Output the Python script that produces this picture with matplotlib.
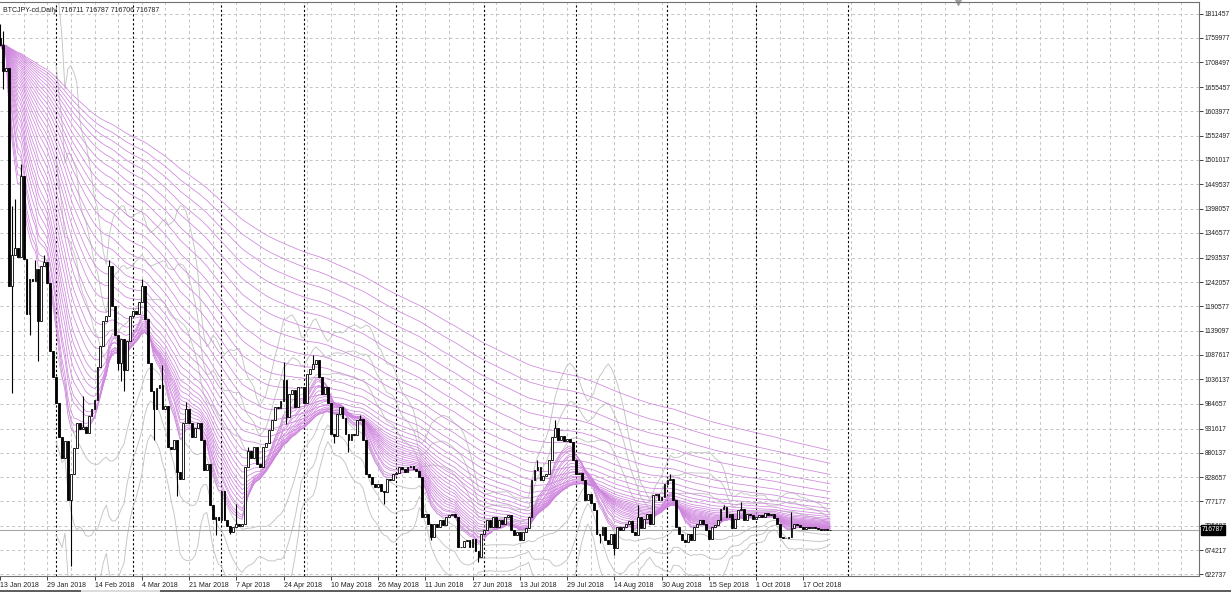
import numpy as np
import pandas as pd
import matplotlib
matplotlib.use('Agg')
import matplotlib.pyplot as plt
from matplotlib.lines import Line2D

# daily closes, thousands of JPY (bar 0 = 13 Jan 2018)
closes = [
    1745, 1690, 1695, 1233, 1300, 1315, 1295, 1467, 1292, 1174,
    1248, 1245, 1270, 1159, 1277, 1285, 1240, 1097, 1040, 985,
    914, 870, 905, 780, 835, 890, 944, 930, 935, 922,
    958, 973, 992, 1062, 1107, 1159, 1170, 1277, 1192, 1129,
    1070, 1121, 1055, 1118, 1170, 1180, 1175, 1200, 1233, 1163,
    1070, 1011, 973, 1018, 1025, 973, 980, 892, 888, 907,
    840, 825, 944, 973, 944, 914, 932, 944, 907, 843,
    857, 770, 740, 745, 738, 800, 737, 725, 712, 722,
    730, 725, 730, 850, 885, 870, 892, 857, 850, 892,
    900, 928, 949, 977, 975, 991, 1034, 956, 1005, 1013,
    977, 1020, 1020, 985, 1048, 1058, 1069, 1076, 1040, 1005,
    1020, 985, 920, 915, 962, 977, 955, 921, 907, 921,
    917, 949, 951, 907, 836, 829, 815, 808, 815, 800,
    797, 825, 822, 835, 838, 850, 845, 840, 850, 853,
    845, 842, 830, 744, 750, 730, 702, 730, 723, 737,
    728, 744, 748, 750, 745, 681, 680, 694, 695, 681,
    697, 673, 660, 709, 716, 737, 723, 744, 723, 737,
    730, 744, 748, 716, 705, 712, 695, 712, 720, 744,
    822, 843, 850, 822, 832, 836, 864, 913, 932, 908,
    915, 905, 910, 904, 864, 836, 838, 822, 780, 794,
    773, 760, 709, 705, 723, 695, 688, 709, 678, 723,
    716, 723, 730, 735, 712, 705, 745, 720, 740, 751,
    730, 790, 793, 780, 787, 815, 822, 825, 780, 723,
    709, 695, 691, 709, 695, 723, 730, 737, 730, 716,
    698, 723, 727, 737, 762, 765, 744, 751, 720, 740,
    758, 762, 737, 751, 748, 740, 745, 748, 745, 752,
    748, 750, 742, 730, 702, 699, 700, 702, 720, 730,
    728, 724, 718, 722, 720, 723, 720, 718, 717, 718,
    717, 716.787,
]
first_open = 1760

# notable wicks (bar -> price, thousands of JPY)
high_wicks = {0: 1790, 1: 1774, 4: 1404, 5: 1418, 7: 1493, 12: 1290, 15: 1300,
              28: 1000, 37: 1289, 48: 1248, 55: 1066, 63: 988, 80: 772, 84: 893,
              96: 1073, 106: 1087, 122: 960, 182: 864, 188: 949, 216: 770,
              227: 835, 245: 769, 251: 775, 268: 755}
low_wicks = {1: 1652, 4: 1007, 10: 1129, 13: 1074, 24: 640, 40: 1055, 41: 1033,
             42: 1011, 52: 907, 60: 788, 73: 705, 78: 709, 97: 942, 113: 900,
             118: 882, 130: 772, 146: 695, 162: 649, 203: 690, 208: 663}

date_labels = ['13 Jan 2018', '29 Jan 2018', '14 Feb 2018', '4 Mar 2018', '21 Mar 2018',
               '7 Apr 2018', '24 Apr 2018', '10 May 2018', '26 May 2018', '11 Jun 2018',
               '27 Jun 2018', '13 Jul 2018', '29 Jul 2018', '14 Aug 2018', '30 Aug 2018',
               '15 Sep 2018', '1 Oct 2018', '17 Oct 2018']
date_bars = [0, 16, 32, 48, 64, 80, 96, 112, 128, 144, 160, 176, 192, 208, 224, 240, 256, 272]
separator_bars = [19, 45, 75, 103, 134, 164, 195, 226, 256, 287]

price_ticks = [1811457, 1759977, 1708497, 1655457, 1603977, 1552497, 1501017, 1449537,
               1398057, 1346577, 1293537, 1242057, 1190577, 1139097, 1087617, 1036137,
               984657, 931617, 880137, 828657, 777177, 725697, 674217, 622737]

ema_periods = [8, 9, 10, 12, 13, 15, 17, 19, 21, 23, 26, 29, 32, 36, 40, 45, 50, 55,
               61, 68, 75, 84, 93, 103, 114, 127, 141, 157, 174, 193, 215, 240]
bb_period = 20
bb_devs = [1, 2, 3]

last_price = 716787
title = 'BTCJPY-cd,Daily  716711 716787 716706 716787'

# ---------------------------------------------------------------
c = np.array(closes) * 1000.0
o = np.concatenate([[first_open * 1000.0], c[:-1]])
h = np.maximum(o, c)
l = np.minimum(o, c)
for k, v in high_wicks.items():
    h[k] = max(h[k], v * 1000.0)
for k, v in low_wicks.items():
    l[k] = min(l[k], v * 1000.0)
bars = np.arange(len(c))

fig = plt.figure(figsize=(12.31, 5.93), dpi=100)
ax = fig.add_axes([0, 17 / 593, 1199 / 1231, 574 / 593])
ax.set_xlim(0, 406)
ax.set_ylim(619133, 1835834)

grid_kw = dict(color='#c4c4c4', lw=0.7, linestyle=(0, (3, 3)), zorder=0)
for p in price_ticks:
    ax.axhline(p, **grid_kw)
for b in range(8, 406, 8):
    ax.axvline(b, **grid_kw)
for b in separator_bars:
    ax.axvline(b, color='black', lw=0.8, linestyle=(0, (2, 2)), zorder=1)

s = pd.Series(c)
mid = s.rolling(bb_period).mean()
sd = s.rolling(bb_period).std(ddof=0)
for d in bb_devs:
    ax.plot(bars, mid + d * sd, color='#c4c4c4', lw=0.65, zorder=2)
    ax.plot(bars, mid - d * sd, color='#c4c4c4', lw=0.65, zorder=2)

for p in ema_periods:
    ax.plot(bars, s.ewm(span=p, adjust=False).mean(), color='#cf86de', lw=0.55, zorder=3)

ax.axhline(last_price, color='#a8a8a8', lw=0.8, zorder=3)

up = c >= o
ax.vlines(bars, l, h, color='black', lw=0.8, zorder=4)
ax.bar(bars[up], (c - o)[up], bottom=o[up], width=0.62, facecolor='white',
       edgecolor='black', lw=0.6, zorder=5)
ax.bar(bars[~up], (o - c)[~up], bottom=c[~up], width=0.62, facecolor='black',
       edgecolor='black', lw=0.6, zorder=5)

# axes styling
ax.spines['left'].set_visible(False)
for side in ['top', 'right', 'bottom']:
    ax.spines[side].set_color('#707070')
    ax.spines[side].set_linewidth(0.8)

ax.yaxis.tick_right()
ax.set_yticks(price_ticks)
ax.set_yticklabels([str(p) for p in price_ticks])
ax.tick_params(axis='y', length=3, width=0.6, pad=0.8, labelsize=4.8, colors='#202020')
ax.set_xticks(date_bars)
ax.set_xticklabels(date_labels, ha='left')
ax.tick_params(axis='x', length=3, width=0.6, pad=1, labelsize=5.0, colors='#202020')
for lab in ax.get_xticklabels() + ax.get_yticklabels():
    lab.set_fontfamily('Liberation Sans')

ax.text(1.0025, last_price, str(last_price), transform=ax.get_yaxis_transform(),
        ha='left', va='center', fontsize=4.8, color='white', family='Liberation Sans',
        bbox=dict(boxstyle='square,pad=0.2', fc='black', ec='black'), zorder=10, clip_on=False)

ax.text(3 / 1199, 1 - 8 / 574, title, transform=ax.transAxes, ha='left', va='center',
        fontsize=5.0, color='#202020', family='Liberation Sans')

ax.plot([958 / 1199], [1.0], marker='v', color='#a0a0a0', markersize=4,
        transform=ax.transAxes, clip_on=False)

# bottom scroll strip
fig.add_artist(Line2D([0, 1], [2.3 / 593, 2.3 / 593], color='#404040', lw=1.2))
fig.add_artist(Line2D([82 / 1231, 159 / 1231], [2.3 / 593, 2.3 / 593], color='#e0e0e0', lw=1.4))

fig.savefig('out.png', dpi=100)
